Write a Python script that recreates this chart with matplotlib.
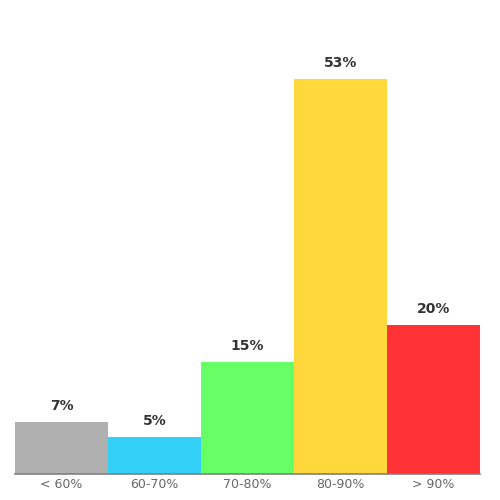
import matplotlib
matplotlib.use("Agg")
import matplotlib.pyplot as plt

categories = ["< 60%", "60-70%", "70-80%", "80-90%", "> 90%"]
values = [7, 5, 15, 53, 20]
colors = ["#b0b0b0", "#33cff5", "#66ff66", "#ffd83b", "#ff3336"]

fig = plt.figure(figsize=(5, 5), dpi=100)
ax = fig.add_axes([0.03, 0.052, 0.93, 0.908])
x = list(range(len(categories)))
ax.bar(x, values, width=1.0, color=colors, edgecolor="none")
for xi, v in zip(x, values):
    ax.annotate(f"{v}%", (xi, v), xytext=(0, 6.5), textcoords="offset points",
                ha="center", va="bottom", fontsize=10, fontweight="bold", color="#333333")
ax.set_xlim(-0.5, len(categories) - 0.5)
ax.set_ylim(0, 60.9)
ax.set_xticks(x)
ax.set_xticklabels(categories, fontsize=9, color="#666666")
ax.tick_params(axis="x", length=0, pad=3)
ax.set_yticks([])
for s in ["top", "right", "left"]:
    ax.spines[s].set_visible(False)
ax.spines["bottom"].set_color("#808080")
ax.spines["bottom"].set_linewidth(1.2)
fig.savefig("out.png", dpi=100)
